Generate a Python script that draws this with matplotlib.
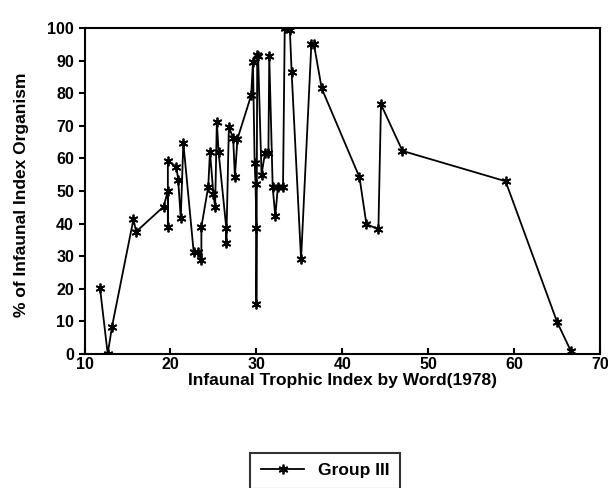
import matplotlib.pyplot as plt

plt.rcParams['font.family'] = ['Liberation Sans', 'DejaVu Sans']
plt.rcParams['font.weight'] = 'bold'

# Group III: infaunal trophic index vs % of infaunal index organism
iti = [11.8, 12.7, 13.2, 15.7, 16.0, 19.2, 19.7, 19.7, 19.7, 20.7, 20.9, 21.2,
       21.5, 22.7, 23.2, 23.6, 23.6, 24.4, 24.6, 25.0, 25.2, 25.4, 25.6, 26.5,
       26.5, 26.8, 27.3, 27.5, 27.8, 29.4, 29.6, 29.8, 29.9, 30.0, 30.0, 30.1,
       30.2, 30.6, 31.0, 31.4, 31.5, 31.9, 32.2, 32.5, 33.1, 33.3, 33.9, 34.1,
       35.2, 36.4, 36.7, 37.6, 42.0, 42.8, 44.2, 44.5, 47.0, 59.0, 65.0, 66.6]
pct = [20.3, 0, 8.4, 41.4, 37.5, 45.2, 50, 39, 59.3, 57.4, 53.4, 41.6,
       64.8, 31.4, 31.4, 28.8, 39, 51.3, 62.1, 49, 45.2, 71.3, 62, 38.6,
       34, 69.7, 66.2, 54.4, 66, 79.4, 89.7, 58.5, 52.3, 38.6, 15.3, 91.7,
       91.4, 55, 61.6, 61.6, 91.4, 51.1, 42.3, 51.1, 51.1, 99.9, 99.4, 86.6,
       29, 95.1, 95, 81.5, 54.2, 39.9, 38.2, 76.6, 62.3, 53, 9.8, 0.9]

fig = plt.figure(figsize=(6.08, 4.88), dpi=100)
ax = fig.add_axes([0.139, 0.2746, 0.848, 0.668])
ax.plot(iti, pct, color='black', lw=1.3, marker=(6, 2, 0), ms=7, mew=1.3,
        label='Group III')

ax.set_xlim(10, 70)
ax.set_ylim(0, 100)
ax.set_xticks(range(10, 71, 10))
ax.set_yticks(range(0, 101, 10))
ax.tick_params(axis='both', labelsize=11.5, width=1.5, length=4, direction='out')
ax.tick_params(axis='x', direction='in', pad=2)
for s in ax.spines.values():
    s.set_linewidth(1.5)

ax.set_xlabel('Infaunal Trophic Index by Word(1978)', fontsize=12.5, fontweight='bold', labelpad=1)
ax.set_ylabel('% of Infaunal Index Organism', fontsize=12.5, fontweight='bold')
ax.yaxis.set_label_coords(-0.107, 0.49)

leg = fig.legend(loc='center', bbox_to_anchor=(0.535, 0.035), fontsize=12.5,
                 frameon=True, fancybox=False, edgecolor='black', handlelength=2.5,
                 borderpad=0.6)
leg.get_frame().set_linewidth(1.5)

plt.savefig('out.png', dpi=100)
